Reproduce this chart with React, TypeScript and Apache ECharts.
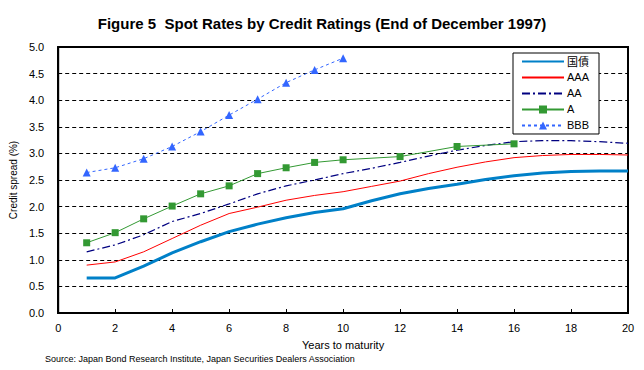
import React, { useEffect, useRef } from "react";
import * as echarts from "echarts";

const years = [1, 2, 3, 4, 5, 6, 7, 8, 9, 10, 11, 12, 13, 14, 15, 16, 17, 18, 19, 20];
const jgb = [0.66, 0.66, 0.88, 1.13, 1.34, 1.53, 1.67, 1.79, 1.89, 1.96, 2.11, 2.24, 2.34, 2.42, 2.51, 2.58, 2.63, 2.66, 2.67, 2.67];
const aaa = [0.9, 0.96, 1.15, 1.4, 1.65, 1.87, 1.99, 2.12, 2.21, 2.28, 2.38, 2.48, 2.62, 2.74, 2.84, 2.92, 2.96, 2.98, 2.98, 2.97];
const aa = [1.15, 1.28, 1.47, 1.72, 1.87, 2.05, 2.24, 2.39, 2.5, 2.62, 2.72, 2.83, 2.95, 3.06, 3.15, 3.22, 3.24, 3.24, 3.22, 3.19];
const aYears = [1, 2, 3, 4, 5, 6, 7, 8, 9, 10, 12, 14, 16];
const aVals = [1.32, 1.51, 1.77, 2.01, 2.24, 2.39, 2.62, 2.73, 2.83, 2.88, 2.94, 3.13, 3.18];
const bbbYears = [1, 2, 3, 4, 5, 6, 7, 8, 9, 10];
const bbbVals = [2.64, 2.73, 2.9, 3.13, 3.41, 3.72, 4.02, 4.33, 4.57, 4.79];
const seriesNames = ["国債", "AAA", "AA", "A", "BBB"];
const noMarker = ["国債", "AAA", "AA"];

const FONT = "'Liberation Sans', Arial, 'Noto Sans CJK JP', sans-serif";

const pairs = (xs: number[], ys: number[]) => xs.map((x, i) => [x, ys[i]]);

export default function App() {
  const ref = useRef<HTMLDivElement>(null);
  useEffect(() => {
    if (!ref.current) return;
    const chart = echarts.init(ref.current, undefined, { renderer: "svg" });
    chart.setOption({
      animation: false,
      backgroundColor: "#fff",
      textStyle: { fontFamily: FONT },
      title: {
        text: "Figure 5  Spot Rates by Credit Ratings (End of December 1997)",
        left: "center",
        top: 11,
        textStyle: { fontFamily: FONT, fontSize: 15, fontWeight: "bold", color: "#000" },
      },
      grid: {
        left: 55,
        right: 16,
        top: 47,
        bottom: 57,
        show: true,
        borderColor: "#000",
        borderWidth: 2,
      },
      legend: {
        orient: "vertical",
        left: 513,
        top: 53,
        data: seriesNames.map((n) =>
          noMarker.includes(n) ? { name: n, itemStyle: { opacity: 0 } } : { name: n }
        ),
        itemWidth: 42,
        itemHeight: 10,
        itemGap: 5,
        padding: [3, 10, 3, 8],
        borderColor: "#000",
        borderWidth: 1,
        backgroundColor: "#fff",
        textStyle: { fontFamily: FONT, fontSize: 11, color: "#000", padding: [0, 0, 0, -2] },
      },
      xAxis: {
        type: "value",
        min: 0,
        max: 20,
        interval: 2,
        name: "Years to maturity",
        nameLocation: "middle",
        nameGap: 26,
        nameTextStyle: { fontFamily: FONT, fontSize: 11, color: "#000" },
        axisLine: { lineStyle: { color: "#000", width: 2 } },
        axisTick: { inside: true, length: 4, lineStyle: { color: "#000" } },
        axisLabel: { fontFamily: FONT, fontSize: 11, color: "#000", margin: 9 },
        splitLine: { show: false },
      },
      yAxis: {
        type: "value",
        min: 0,
        max: 5,
        interval: 0.5,
        name: "Credit spread (%)",
        nameLocation: "middle",
        nameGap: 38,
        nameTextStyle: { fontFamily: FONT, fontSize: 10, color: "#000" },
        axisLine: { show: true, lineStyle: { color: "#000", width: 2 } },
        axisTick: { show: false },
        axisLabel: {
          fontFamily: FONT,
          fontSize: 11,
          color: "#000",
          margin: 14,
          formatter: (v: number) => v.toFixed(1),
        },
        splitLine: { show: true, lineStyle: { color: "#000", type: [4, 3], width: 1 } },
      },
      series: [
        {
          name: "国債",
          type: "line",
          data: pairs(years, jgb),
          symbol: "none",
          lineStyle: { color: "#0080C8", width: 3 },
          itemStyle: { color: "#0080C8" },
          z: 5,
        },
        {
          name: "AAA",
          type: "line",
          data: pairs(years, aaa),
          symbol: "none",
          lineStyle: { color: "#FF0000", width: 1 },
          itemStyle: { color: "#FF0000" },
        },
        {
          name: "AA",
          type: "line",
          data: pairs(years, aa),
          symbol: "none",
          lineStyle: { color: "#000080", width: 1.2, type: [8, 3, 2, 3] },
          itemStyle: { color: "#000080" },
        },
        {
          name: "A",
          type: "line",
          data: pairs(aYears, aVals),
          symbol: "rect",
          symbolSize: 7,
          lineStyle: { color: "#339933", width: 1 },
          itemStyle: { color: "#339933" },
        },
        {
          name: "BBB",
          type: "line",
          data: pairs(bbbYears, bbbVals),
          symbol: "triangle",
          symbolSize: 8,
          lineStyle: { color: "#3366FF", width: 1, type: [3, 3] },
          itemStyle: { color: "#3366FF" },
        },
      ],
      graphic: [
        {
          type: "text",
          left: 45,
          top: 354,
          style: {
            text: "Source: Japan Bond Research Institute, Japan Securities Dealers Association",
            fontFamily: FONT,
            fontSize: 9,
            fill: "#000",
          },
        },
      ],
    });
    return () => chart.dispose();
  }, []);
  return (
    <div
      ref={ref}
      style={{ position: "fixed", left: 0, top: 0, width: 644, height: 370 }}
    />
  );
}
